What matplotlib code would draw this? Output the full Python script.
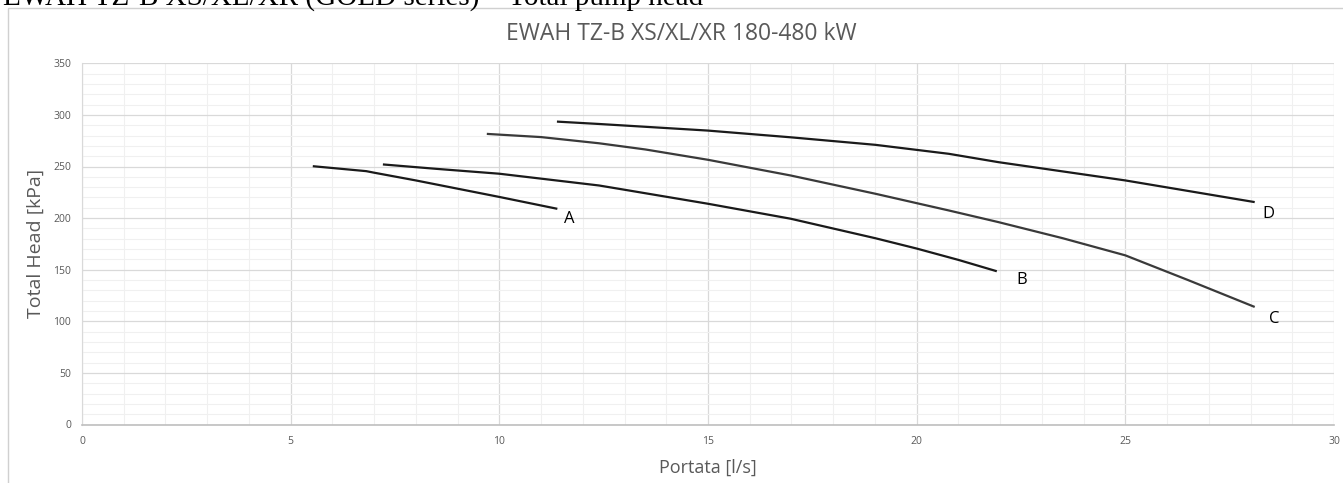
import numpy as np
import matplotlib
matplotlib.use("Agg")
import matplotlib.pyplot as plt
from matplotlib.patches import Rectangle

# pump curves
a_x = [5.53, 6.81, 7.0, 8.0, 9.0, 10.0, 11.39]
a_y = [250.3, 245.5, 244.0, 236.5, 228.5, 220.5, 209.0]

b_x = [7.21, 8.5, 10.0, 12.39, 13.1, 15.0, 16.98, 19.01, 20.0, 21.0, 21.92]
b_y = [252.0, 247.7, 243.0, 231.6, 226.8, 213.9, 199.4, 180.5, 170.5, 159.5, 148.5]

c_x = [9.70, 11.0, 12.39, 13.5, 15.0, 16.98, 19.01, 20.77, 21.96, 23.5, 25.0, 26.5, 28.1]
c_y = [281.6, 278.5, 272.5, 266.5, 256.5, 241.3, 223.6, 207.4, 196.1, 180.5, 163.9, 140.0, 113.9]

d_x = [11.38, 12.39, 15.0, 16.98, 19.01, 20.77, 21.96, 25.0, 28.1]
d_y = [293.5, 291.2, 284.8, 278.3, 271.0, 262.3, 254.2, 236.5, 215.5]

labels = ["A", "B", "C", "D"]
label_pos = [(11.67, 199.4), (22.52, 139.7), (28.58, 102.7), (28.42, 204.2)]

grey = "#595959"
plt.rcParams['font.family'] = ['Open Sans', 'DejaVu Sans']

fig = plt.figure(figsize=(13.43, 4.83), dpi=100)
ax = fig.add_axes([82/1343, 1 - 424.5/483, (1334 - 82)/1343, (424.5 - 63.3)/483])

# chart border (excel frame), partly cut
fig.patches.append(Rectangle((8/1343, -0.1), 1.2, 1 - 8.5/483 + 0.1,
                             transform=fig.transFigure, fill=False,
                             edgecolor="#d0d0d0", lw=1))

# caption above the chart, cut off at the top of the image
fig.text(3/1343, 1 - 5.0/483, "EWAH TZ-B XS/XL/XR (GOLD series) \u2013 Total pump head",
         family="Liberation Serif", fontsize=21, va="baseline", ha="left", color="black")

for x, y, c in [(a_x, a_y, "#1a1a1a"), (b_x, b_y, "#1a1a1a"),
                (c_x, c_y, "#3a3a3a"), (d_x, d_y, "#1a1a1a")]:
    ax.plot(x, y, color=c, lw=1.6, solid_capstyle="butt")

for lab, (lx, ly) in zip(labels, label_pos):
    ax.text(lx, ly, lab, fontsize=12, ha="center", va="center", color="black")

ax.set_xlim(0, 30)
ax.set_ylim(0, 350)
ax.set_xticks(np.arange(0, 31, 5))
ax.set_yticks(np.arange(0, 351, 50))
ax.set_xticks(np.arange(0, 31, 1), minor=True)
ax.set_yticks(np.arange(0, 351, 10), minor=True)
ax.grid(which="major", color="#d9d9d9", lw=0.9)
ax.grid(which="minor", color="#f0f0f0", lw=0.8)
ax.set_axisbelow(True)
ax.tick_params(which="both", length=0, labelsize=7.5, labelcolor=grey, pad=8)
for s in ["top", "right"]:
    ax.spines[s].set_visible(False)
ax.spines["left"].set_color("#d9d9d9")
ax.spines["bottom"].set_color("#bfbfbf")
ax.spines["bottom"].set_linewidth(1.2)

ax.set_xlabel("Portata [l/s]", fontsize=13, color=grey, labelpad=9)
ax.set_ylabel("Total Head [kPa]", fontsize=14, color=grey, labelpad=6)
fig.text(681/1343, 1 - 34/483, "EWAH TZ-B XS/XL/XR 180-480 kW", fontsize=16.5,
         color=grey, ha="center", va="center")

fig.savefig("out.png", dpi=100)
